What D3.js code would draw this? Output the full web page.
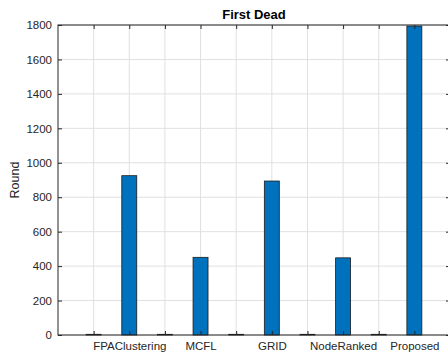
<!DOCTYPE html>
<html>
<head>
<meta charset="utf-8">
<script src="https://cdn.jsdelivr.net/npm/d3@7"></script>
<style>
  html, body { margin: 0; padding: 0; background: #fff; }
  svg { display: block; }
  text { font-family: "Liberation Sans", Arial, Helvetica, sans-serif; }
</style>
</head>
<body>
<svg id="chart" width="448" height="354"></svg>
<script>
// ---- data ----
const positions = [1, 2, 3, 4, 5, 6, 7, 8, 9, 10];
const categoryLabels = ["", "FPAClustering", "", "MCFL", "", "GRID", "", "NodeRanked", "", "Proposed"];
const roundValues = [4, 925, 4, 451, 4, 894, 4, 448, 4, 1794];
const yTicks = [0, 200, 400, 600, 800, 1000, 1200, 1400, 1600, 1800];
const chartTitle = "First Dead";
const yLabel = "Round";

// ---- layout ----
const plotL = 58, plotR = 450, plotT = 25, plotB = 335;
const axisColor = "#262626";

const svg = d3.select("#chart");

const x = d3.scaleLinear().domain([0, 11]).range([plotL, plotR]);
const y = d3.scaleLinear().domain([0, 1800]).range([plotB, plotT]);

// grid
const grid = svg.append("g");
grid.selectAll("line.vg").data(positions).enter().append("line")
  .attr("x1", d => x(d)).attr("x2", d => x(d))
  .attr("y1", plotT).attr("y2", plotB)
  .attr("stroke", "#e0e0e0").attr("stroke-width", 1);
grid.selectAll("line.hg").data(yTicks).enter().append("line")
  .attr("x1", plotL).attr("x2", plotR)
  .attr("y1", d => y(d)).attr("y2", d => y(d))
  .attr("stroke", "#e0e0e0").attr("stroke-width", 1);

// bars
const barW = x(0.42) - x(0);
svg.append("g").selectAll("rect").data(positions).enter().append("rect")
  .attr("x", (d) => x(d) - barW / 2)
  .attr("width", barW)
  .attr("y", (d, i) => y(roundValues[i]))
  .attr("height", (d, i) => y(0) - y(roundValues[i]))
  .attr("fill", "#0072BD")
  .attr("stroke", "#1a1a1a")
  .attr("stroke-width", 0.8);

// axes (MATLAB-style inward ticks)
const tickLen = 4;
const axB = svg.append("g").attr("transform", `translate(0,${plotB})`)
  .call(d3.axisBottom(x).tickValues(positions).tickSize(-tickLen).tickPadding(6)
    .tickFormat((d, i) => categoryLabels[i]));
const axT = svg.append("g").attr("transform", `translate(0,${plotT})`)
  .call(d3.axisTop(x).tickValues(positions).tickSize(-tickLen).tickFormat(""));
const axL = svg.append("g").attr("transform", `translate(${plotL},0)`)
  .call(d3.axisLeft(y).tickValues(yTicks).tickSize(-tickLen).tickPadding(6)
    .tickFormat(d3.format("d")));
const axR = svg.append("g").attr("transform", `translate(${plotR},0)`)
  .call(d3.axisRight(y).tickValues(yTicks).tickSize(-tickLen).tickFormat(""));

[axB, axT, axL, axR].forEach(a => {
  a.select(".domain").remove();
  a.selectAll(".tick line").attr("stroke", axisColor).attr("stroke-width", 1);
  a.selectAll(".tick text").attr("fill", axisColor).style("font-size", "11.5px")
    .style("font-family", '"Liberation Sans", Arial, sans-serif');
});
axB.selectAll(".tick text").attr("dy", "0.71em").attr("y", 7);

// box
svg.append("rect").attr("x", plotL).attr("y", plotT)
  .attr("width", plotR - plotL).attr("height", plotB - plotT)
  .attr("fill", "none").attr("stroke", axisColor).attr("stroke-width", 1);

// title
svg.append("text").attr("x", (plotL + plotR) / 2).attr("y", 19)
  .attr("text-anchor", "middle").attr("font-weight", "bold")
  .style("font-size", "13px").attr("fill", "#000").text(chartTitle);

// y label
svg.append("text").attr("transform", `translate(19,${(plotT + plotB) / 2}) rotate(-90)`)
  .attr("text-anchor", "middle").style("font-size", "12.5px")
  .attr("fill", axisColor).text(yLabel);
</script>
</body>
</html>
